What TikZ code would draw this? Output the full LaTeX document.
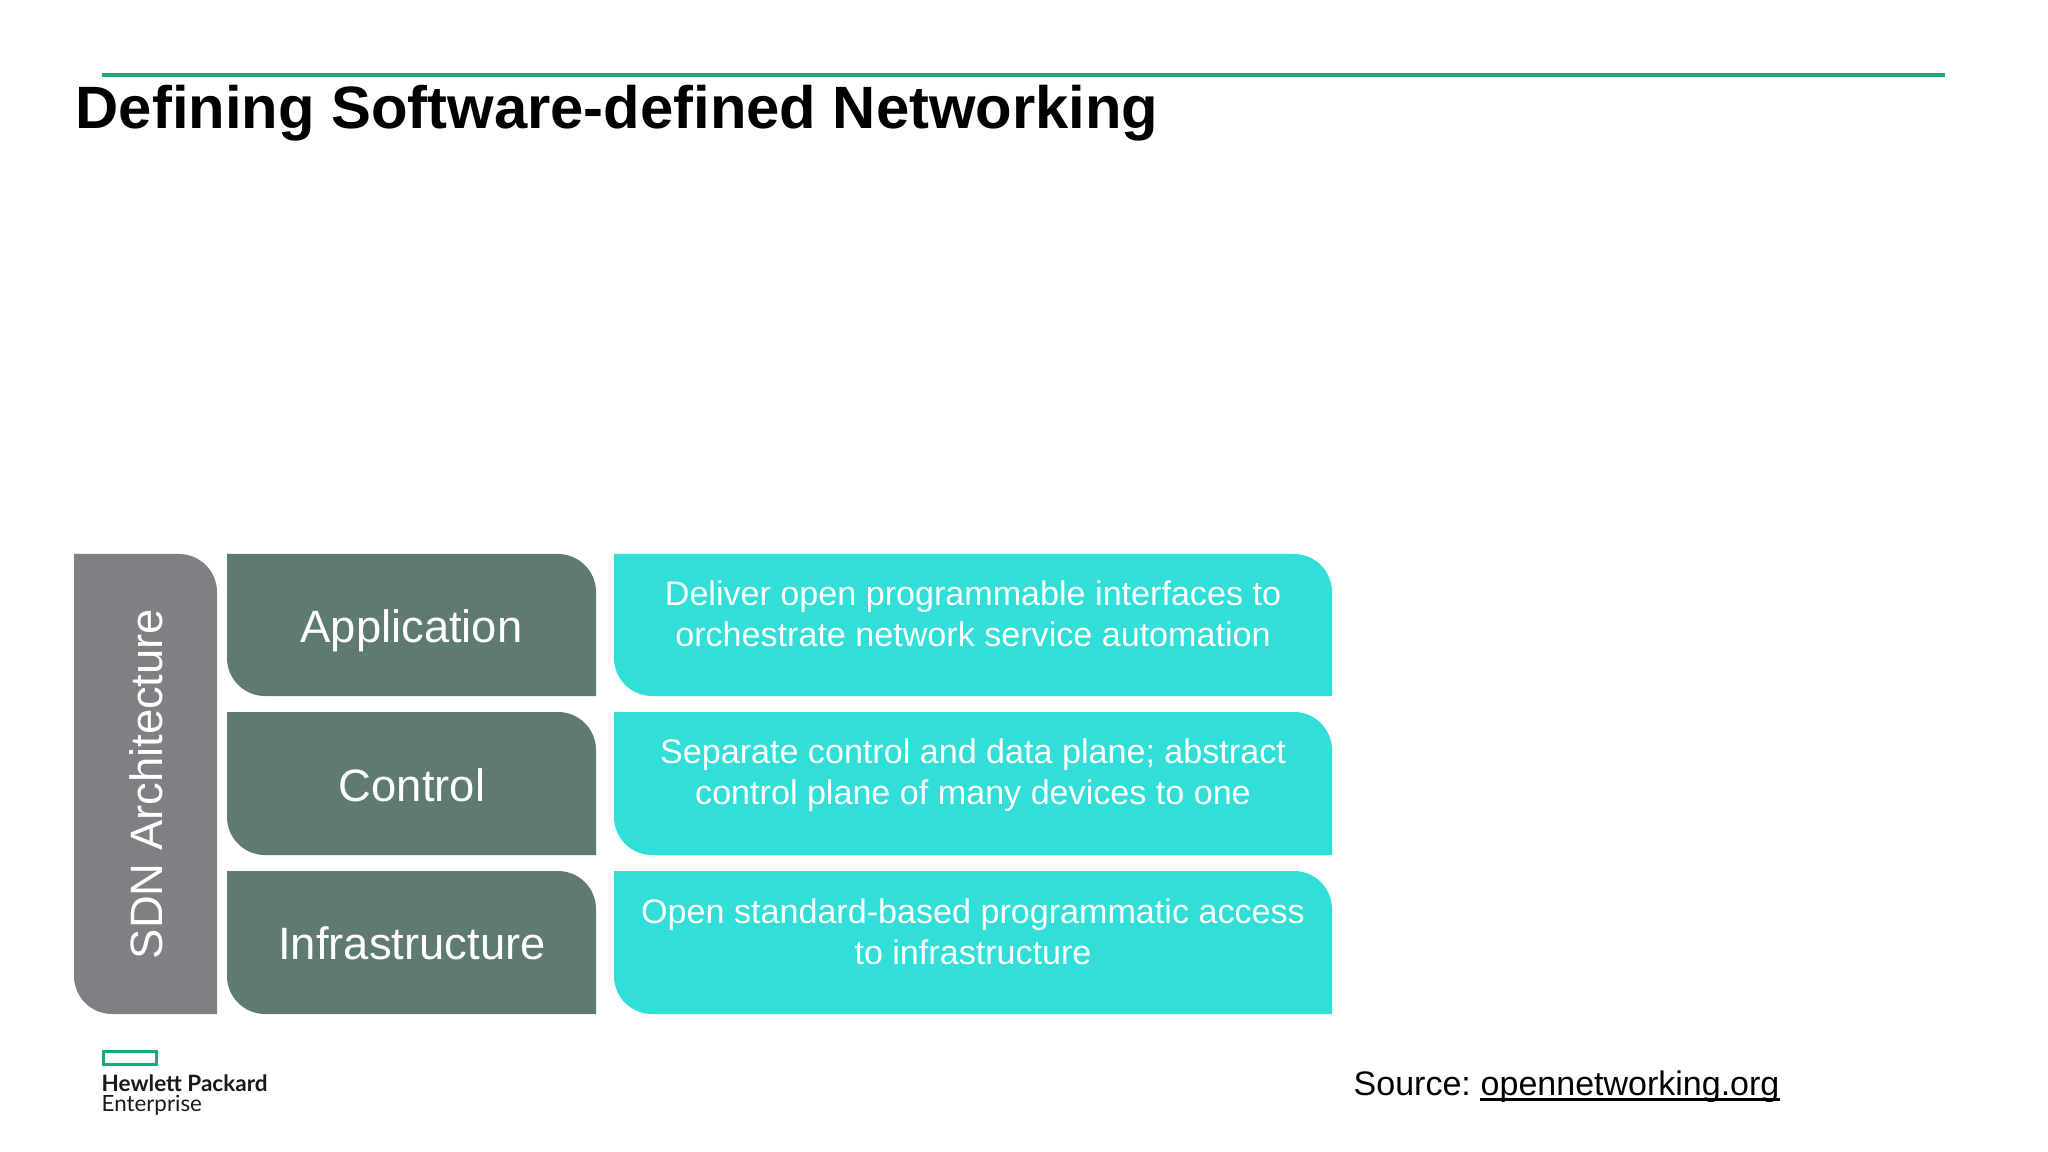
\documentclass[tikz,border=0pt]{standalone}
\usepackage{fontspec}
\setmainfont{Liberation Sans}
\newfontfamily\logofont{Lato}
\usepackage{xcolor}
\definecolor{hpegreen}{HTML}{1AA881}
\definecolor{slabgray}{HTML}{807F83}
\definecolor{slabgreen}{HTML}{5F7A72}
\definecolor{slabcyan}{HTML}{31DFD8}
\tikzset{
    corner/.style={rounded corners=0.38cm},
    layertext/.style={text=white, font=\fontsize{12.9}{15}\selectfont, anchor=base},
    desctext/.style={text=white, font=\fontsize{9.7}{11.5}\selectfont, align=center},
    logotext/.style={anchor=base west, inner sep=0pt, text=black!90},
    sourcetext/.style={anchor=base west, inner sep=0pt, font=\fontsize{9.67}{12}\selectfont},
}
\begin{document}
\begin{tikzpicture}[x=0.01cm, y=-0.01cm]
    \useasboundingbox (0,0) rectangle (2048,1152);
    \fill[white] (0,0) rectangle (2048,1152);

    \coordinate (ruleL) at (102,75);
    \coordinate (ruleR) at (1945,75);
    \draw[hpegreen, line width=0.035cm] (ruleL) -- (ruleR);
    \node[anchor=base west, inner sep=0pt, font=\fontsize{17}{20}\selectfont\bfseries] (title) at (75,129) {Defining Software-defined Networking};

    \fill[slabgray] (74,554) [corner] -- (217,554) [sharp corners] -- (217,1014) [corner] -- (74,1014) [sharp corners] -- cycle;
    \node[layertext, rotate=90] (arch) at (162,784) {SDN Architecture};

    \foreach \ytop/\ybot in {554/696, 712/855, 871/1014} {
        \fill[slabgreen] (227,\ytop) [corner] -- (596,\ytop) [sharp corners] -- (596,\ybot) [corner] -- (227,\ybot) [sharp corners] -- cycle;
        \fill[slabcyan] (614,\ytop) [corner] -- (1332,\ytop) [sharp corners] -- (1332,\ybot) [corner] -- (614,\ybot) [sharp corners] -- cycle;
    }

    \node[layertext] (application) at (411.5,642.5) {Application};
    \node[layertext] (control) at (412,801) {Control};
    \node[layertext] (infrastructure) at (412,959) {Infrastructure};

    \node[desctext] (appdesc) at (973,614) {Deliver open programmable interfaces to\\orchestrate network service automation};
    \node[desctext] (ctrldesc) at (973,775) {Separate control and data plane; abstract\\control plane of many devices to one};
    \node[desctext] (infradesc) at (973,932) {Open standard-based programmatic access\\to infrastructure};

    \draw[hpegreen, line width=0.03cm] (103.5,1051) rectangle (156.5,1064);
    \node[logotext, font=\logofont\fontsize{6.4}{7}\selectfont\bfseries] (logotop) at (101,1091) {Hewlett Packard};
    \node[logotext, font=\logofont\fontsize{6.35}{7}\selectfont] (logobot) at (101,1111) {Enterprise};

    \node[sourcetext] (sourcelabel) at (1353,1095) {Source:};
    \node[sourcetext] (sourcelink) at (1480,1095) {opennetworking.org};
    \draw[line width=0.025cm] ([yshift=-0.045cm]sourcelink.base west) -- ([yshift=-0.045cm]sourcelink.base east);
\end{tikzpicture}
\end{document}
